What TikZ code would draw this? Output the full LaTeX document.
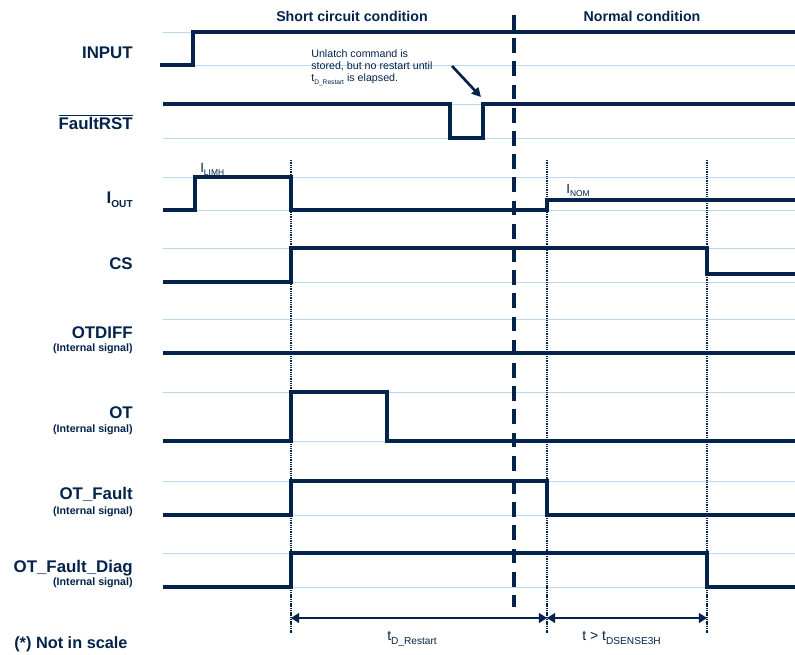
\documentclass[tikz,border=0pt]{standalone}
\usepackage{fontspec}
\setmainfont{Liberation Sans}
\usepackage{xcolor}
\usetikzlibrary{arrows.meta,positioning}

\definecolor{stnavy}{RGB}{3,35,75}
\definecolor{stgrid}{RGB}{189,215,238}
\newcommand{\lsub}[2][0.72]{\raisebox{-0.55ex}{\scalebox{#1}{#2}}}

\begin{document}
\begin{tikzpicture}[
    x=0.025cm, y=-0.025cm,
    sig/.style={stnavy, line width=2.2pt, line join=miter},
    gridline/.style={stgrid, line width=0.7pt},
    marker/.style={stnavy, line width=1.2pt, dash pattern=on 1pt off 0.6pt},
    split/.style={stnavy, line width=2.8pt, dash pattern=on 10.5pt off 6pt},
    signame/.style={anchor=base east, inner sep=0pt, text=stnavy, font=\fontsize{12}{12}\selectfont\bfseries},
    sigsub/.style={anchor=base east, inner sep=0pt, text=stnavy, font=\fontsize{7.6}{8}\selectfont\bfseries},
    heading/.style={anchor=base, inner sep=0pt, text=stnavy, font=\fontsize{10.1}{10}\selectfont\bfseries},
    lvl/.style={anchor=base west, inner sep=0pt, text=stnavy, font=\fontsize{9.5}{10}\selectfont},
    dimarrow/.style={stnavy, line width=0.8pt, {Triangle[length=5.7pt,width=7pt]}-{Triangle[length=5.7pt,width=7pt]}}
]
    \useasboundingbox (0,0) rectangle (795,654);

    % grid lines (high / low level of each signal)
    \foreach \hi/\lo in {32/65,104/138,177/210,248/282,319/353,392/441,481/515,553/587} {
        \draw[gridline] (163,\hi) -- (795,\hi);
        \draw[gridline] (163,\lo) -- (795,\lo);
    }

    % titles
    \node[heading] (short) at (352,21) {Short circuit condition};
    \node[heading] (normal) at (642,21) {Normal condition};

    % signal names
    \node[signame] (input) at (133,58) {INPUT};
    \node[signame] (faultrst) at (133,129) {$\overline{\mbox{FaultRST}}$};
    \node[signame] (iout) at (133,203) {I\lsub[0.6]{OUT}};
    \node[signame] (cs) at (133,269) {CS};
    \node[signame] (otdiff) at (133,338) {OTDIFF};
    \node[sigsub] (otdiffsub) at (133,351) {(Internal signal)};
    \node[signame] (ot) at (133,418) {OT};
    \node[sigsub] (otsub) at (133,432) {(Internal signal)};
    \node[signame] (otfault) at (133,499) {OT\_Fault};
    \node[sigsub] (otfaultsub) at (133,514) {(Internal signal)};
    \node[signame] (otdiag) at (133,572) {OT\_Fault\_Diag};
    \node[sigsub] (otdiagsub) at (133,585) {(Internal signal)};
    \node[anchor=base west, inner sep=0pt, text=stnavy, font=\fontsize{11.6}{12}\selectfont\bfseries] (scale) at (14,648) {(*) Not in scale};

    % markers
    \draw[marker] (291,160) -- (291,633);
    \draw[marker] (547,160) -- (547,633);
    \draw[marker] (707,160) -- (707,633);
    \draw[split] (514,15) -- (514,607);

    % waveforms
    \draw[sig] (160,65) -- (193,65) -- (193,32) -- (795,32);
    \draw[sig] (163,104) -- (450,104) -- (450,138) -- (483,138) -- (483,104) -- (795,104);
    \draw[sig] (163,210) -- (195,210) -- (195,177) -- (291,177) -- (291,210) -- (547,210) -- (547,200) -- (795,200);
    \draw[sig] (163,282) -- (291,282) -- (291,248) -- (707,248) -- (707,274) -- (795,274);
    \draw[sig] (163,353) -- (795,353);
    \draw[sig] (163,441) -- (291,441) -- (291,392) -- (387,392) -- (387,441) -- (795,441);
    \draw[sig] (163,515) -- (291,515) -- (291,481) -- (547,481) -- (547,515) -- (795,515);
    \draw[sig] (163,587) -- (291,587) -- (291,553) -- (707,553) -- (707,587) -- (795,587);

    % levels
    \node[lvl] (limh) at (200,172) {I\lsub[0.63]{LIMH}};
    \node[lvl] (inom) at (566,193) {I\lsub[0.63]{NOM}};

    % unlatch note
    \node[anchor=north west, inner sep=0pt, align=left, text=stnavy,
          font=\fontsize{7.6}{8.7}\selectfont] (unlatch) at (311,49)
          {Unlatch command is\\stored, but no restart until\\t\lsub[0.62]{D\_Restart} is elapsed.};
    \coordinate (ulfrom) at (452,66);
    \coordinate (ulto) at (481,97);
    \draw[stnavy, line width=1.9pt, -{Triangle[length=6.5pt,width=6.5pt]}] (ulfrom) -- (ulto);

    % timings
    \coordinate (ta) at (291,618);
    \coordinate (tb) at (547,618);
    \coordinate (tc) at (707,618);
    \draw[dimarrow] (ta) -- (tb);
    \draw[dimarrow] (tb) -- (tc);
    \node[lvl, font=\fontsize{10}{10}\selectfont] (trestart) at (387,640) {t\lsub{D\_Restart}};
    \node[lvl, font=\fontsize{10}{10}\selectfont] (tsense) at (582,640) {t > t\lsub{DSENSE3H}};
\end{tikzpicture}
\end{document}
